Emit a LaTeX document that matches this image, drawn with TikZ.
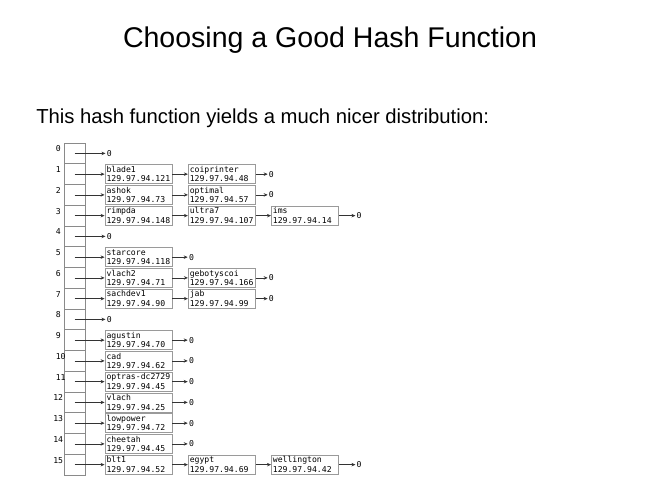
\documentclass[tikz,border=0pt]{standalone}
\usepackage{fontspec}
\setmainfont{Liberation Sans}
\newfontfamily\monof{DejaVu Sans Mono}
\usetikzlibrary{arrows.meta,positioning}
\definecolor{boxgray}{HTML}{9A9A9A}
\definecolor{cellgray}{HTML}{8A8A8A}
\definecolor{arrowc}{HTML}{333333}
\begin{document}
\begin{tikzpicture}[x=0.75pt,y=-0.75pt,
  cell/.style={draw=cellgray,line width=0.6pt,minimum width=15.75pt,minimum height=15.5625pt,inner sep=0pt},
  idx/.style={font=\monof\fontsize{6.1pt}{7.1pt}\selectfont,inner sep=0pt},
  rec/.style={draw=boxgray,line width=0.6pt,minimum width=50.25pt,minimum height=14.25pt,
    inner xsep=1.1pt,inner ysep=0pt,text width=48pt,align=left,
    font=\monof\fontsize{6.1pt}{7.1pt}\selectfont},
  nul/.style={font=\monof\fontsize{6.1pt}{7.1pt}\selectfont,inner xsep=0.75pt,inner ysep=0pt},
  link/.style={draw=arrowc,line width=0.6pt,-{Stealth[length=3pt,width=2.6pt]}},
  nulA/.style={nul,right=11.5pt of #1},
  nulB/.style={nul,right=9pt of #1},
  nulC/.style={nul,right=12.5pt of #1}]
\useasboundingbox (0,0) rectangle (672,503);
\node[font=\fontsize{21.4pt}{25pt}\selectfont,anchor=base,inner sep=0pt] (title) at (330,47.7) {Choosing a Good Hash Function};
\node[font=\fontsize{15.2pt}{18pt}\selectfont,anchor=base west,inner sep=0pt] (sub) at (36,123) {This hash function yields a much nicer distribution:};
% array
\foreach \i in {0,...,15} {
  \node[cell] (c\i) at (74.5,{153.4+20.75*\i}) {};
  \node[idx,anchor=base west] (l\i) at ({\i>11 ? 53 : 55.5},{151.9+20.75*\i}) {\i};
}
% empty buckets
\foreach \i in {0,4,8} {
  \node[nul,anchor=west] (z\i) at (105.5,{153.4+20.75*\i}) {0};
  \draw[link] (c\i.center) -- (z\i.west);
}
% first column
\node[rec] (b1a) at (138.5,{153.4+20.75*1}) {blade1\\129.97.94.121};
\node[rec] (b2a) at (138.5,{153.4+20.75*2}) {ashok\\129.97.94.73};
\node[rec] (b3a) at (138.5,{153.4+20.75*3}) {rimpda\\129.97.94.148};
\node[rec] (b5a) at (138.5,{153.4+20.75*5}) {starcore\\129.97.94.118};
\node[rec] (b6a) at (138.5,{153.4+20.75*6}) {vlach2\\129.97.94.71};
\node[rec] (b7a) at (138.5,{153.4+20.75*7}) {sachdev1\\129.97.94.90};
\node[rec] (b9a) at (138.5,{153.4+20.75*9}) {agustin\\129.97.94.70};
\node[rec] (b10a) at (138.5,{153.4+20.75*10}) {cad\\129.97.94.62};
\node[rec] (b11a) at (138.5,{153.4+20.75*11}) {optras-dc2729\\129.97.94.45};
\node[rec] (b12a) at (138.5,{153.4+20.75*12}) {vlach\\129.97.94.25};
\node[rec] (b13a) at (138.5,{153.4+20.75*13}) {lowpower\\129.97.94.72};
\node[rec] (b14a) at (138.5,{153.4+20.75*14}) {cheetah\\129.97.94.45};
\node[rec] (b15a) at (138.5,{153.4+20.75*15}) {blt1\\129.97.94.52};
% second column
\node[rec] (b1b) at (221.8,{153.4+20.75*1}) {coiprinter\\129.97.94.48};
\node[rec] (b2b) at (221.8,{153.4+20.75*2}) {optimal\\129.97.94.57};
\node[rec] (b3b) at (221.8,{153.4+20.75*3}) {ultra7\\129.97.94.107};
\node[rec] (b6b) at (221.8,{153.4+20.75*6}) {gebotyscoi\\129.97.94.166};
\node[rec] (b7b) at (221.8,{153.4+20.75*7}) {jab\\129.97.94.99};
\node[rec] (b15b) at (221.8,{153.4+20.75*15}) {egypt\\129.97.94.69};
% third column
\node[rec] (b3c) at (304.9,{153.4+20.75*3}) {ims\\129.97.94.14};
\node[rec] (b15c) at (304.9,{153.4+20.75*15}) {wellington\\129.97.94.42};
% array to first column
\foreach \i in {1,2,3,5,6,7,9,10,11,12,13,14,15} {
  \draw[link] (c\i.center) -- (b\i a.west);
}
% chains
\foreach \i in {1,2,3,6,7,15} {
  \draw[link] (b\i a.east) -- (b\i b.west);
}
\foreach \i in {3,15} {
  \draw[link] (b\i b.east) -- (b\i c.west);
}
% null terminators
\foreach \i in {5,9,10,11,12,13,14} {
  \node[nulA=b\i a] (z\i) {0};
  \draw[link] (b\i a.east) -- (z\i.west);
}
\foreach \i in {1,2,6,7} {
  \node[nulB=b\i b] (z\i) {0};
  \draw[link] (b\i b.east) -- (z\i.west);
}
\foreach \i in {3,15} {
  \node[nulC=b\i c] (z\i) {0};
  \draw[link] (b\i c.east) -- (z\i.west);
}
\end{tikzpicture}
\end{document}
